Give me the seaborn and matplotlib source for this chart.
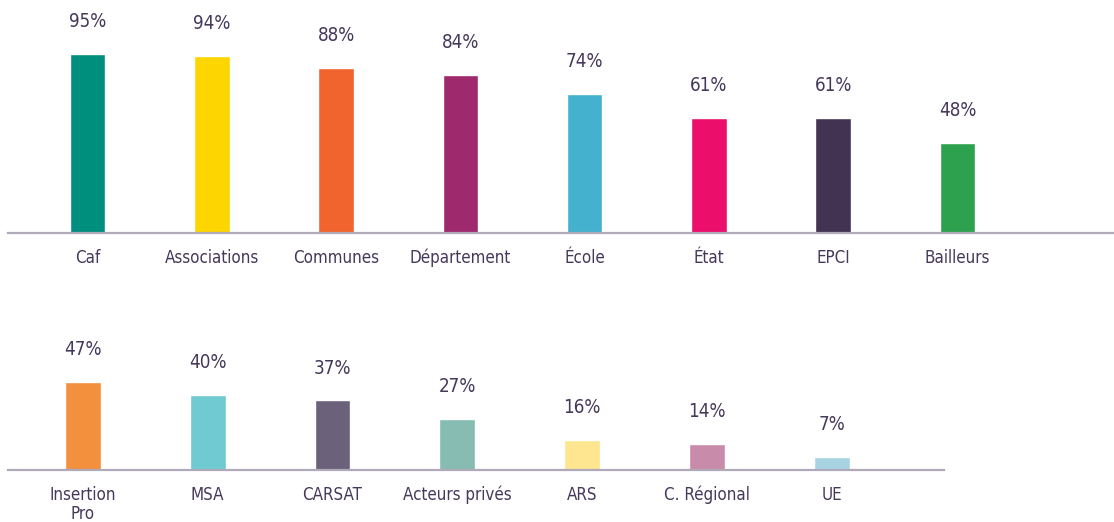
import matplotlib
matplotlib.use("Agg")
import matplotlib.pyplot as plt
import pandas as pd
import seaborn as sns

# Top row
top_labels = ["Caf", "Associations", "Communes", "Département", "École", "État", "EPCI", "Bailleurs"]
top_values = [95, 94, 88, 84, 74, 61, 61, 48]
top_colors = ["#008E7D", "#FDD500", "#F2642E", "#9E2A6D", "#44B1CE", "#EB0F6B", "#433353", "#2EA14E"]

# Bottom row
bottom_labels = ["Insertion\nPro", "MSA", "CARSAT", "Acteurs privés", "ARS", "C. Régional", "UE"]
bottom_values = [47, 40, 37, 27, 16, 14, 7]
bottom_colors = ["#F2903E", "#6FCBD1", "#6B617B", "#86BCB2", "#FDE68F", "#C98BAA", "#A7D3E3"]

TEXT = "#45385A"
AXIS = "#B0A9BA"

sns.set_style("white")
plt.rcParams["font.family"] = ["DejaVu Sans"]
plt.rcParams["font.stretch"] = "condensed"

W, H = 1114, 522
fig = plt.figure(figsize=(W / 100, H / 100), dpi=100)


def px_axes(left, bottom_px, width, height):
    # bottom_px is the baseline y in image pixels (from top)
    return fig.add_axes([left / W, (H - bottom_px) / H, width / W, height / H])


def draw_row(ax, labels, values, colors, xlim):
    df = pd.DataFrame({"cat": labels, "val": values})
    sns.barplot(data=df, x="cat", y="val", hue="cat", palette=colors,
                width=0.286, legend=False, ax=ax, saturation=1)
    ax.set_xlim(*xlim)
    ax.set_ylim(0, 200 / 1.88)
    for c in ax.containers:
        ax.bar_label(c, labels=[f"{int(round(v))}%" for v in c.datavalues],
                     padding=16.5, fontsize=13.5, color=TEXT)
    sns.despine(ax=ax, left=True)
    ax.spines["bottom"].set_color(AXIS)
    ax.spines["bottom"].set_linewidth(1.6)
    ax.set_yticks([])
    ax.set_xlabel("")
    ax.set_ylabel("")
    ax.tick_params(axis="x", length=0, pad=11.5, labelsize=12.2, labelcolor=TEXT)
    for t in ax.get_xticklabels():
        t.set_linespacing(1.05)
    ax.patch.set_alpha(0)


ax_top = px_axes(8, 233, 1106, 200)
draw_row(ax_top, top_labels, top_values, top_colors, (-0.64, 8.26))

ax_bot = px_axes(8, 470, 936, 200)
draw_row(ax_bot, bottom_labels, bottom_values, bottom_colors, (-0.60, 6.90))

fig.savefig("out.png", dpi=100)
